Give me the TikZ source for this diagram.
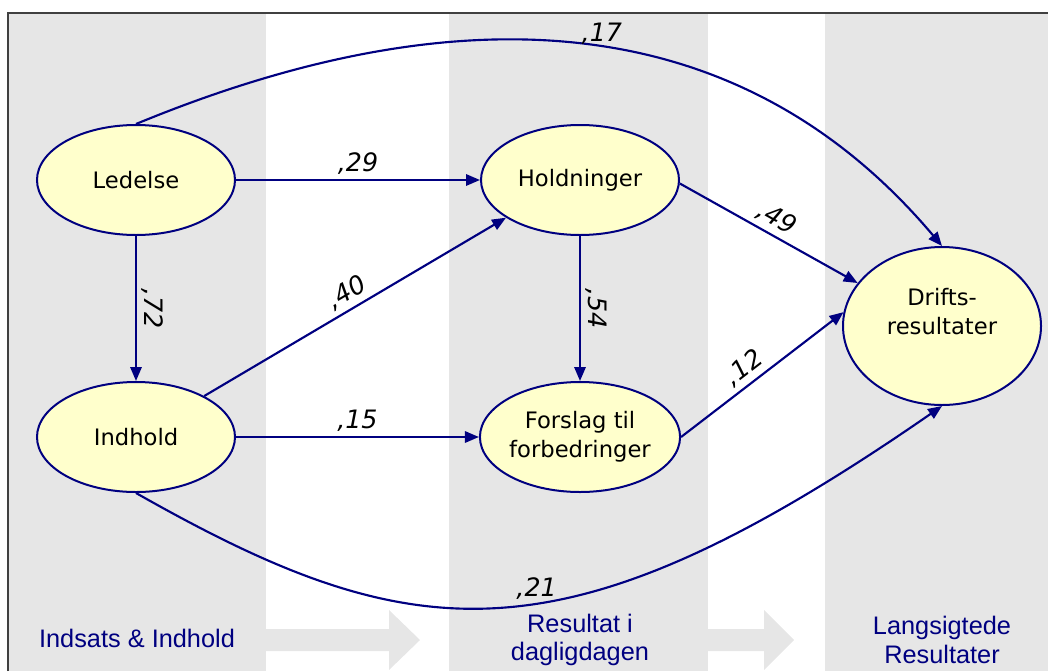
\documentclass[tikz,border=0pt]{standalone}
\usepackage{fontspec}
\setmainfont{DejaVu Sans}
\newfontfamily\stagefont{Liberation Sans}
\usepackage{tikz}
\usetikzlibrary{shapes.geometric,arrows.meta,positioning,calc}
\usepackage{xcolor}
\definecolor{navy}{RGB}{0,0,128}
\definecolor{bandgray}{RGB}{230,230,230}
\definecolor{factoryellow}{RGB}{255,255,204}

\tikzset{
  factor/.style={ellipse, draw=navy, line width=1.5pt, fill=factoryellow, minimum width=148.5pt, minimum height=82.5pt, inner sep=0pt, align=center, font=\fontsize{17}{21.5}\selectfont},
  coef/.style={font=\fontsize{19}{21}\selectfont\itshape, inner sep=1.5pt},
  link/.style={->, draw=navy, line width=1.6pt},
  stage/.style={text=navy, align=center, font=\stagefont\fontsize{19}{21.5}\selectfont}
}

\begin{document}
\begin{tikzpicture}[x=0.75pt,y=-0.75pt,>={Triangle[length=10.5pt,width=8.5pt]}]
\useasboundingbox (0,0) rectangle (1048,671);
% bands and stage arrows
\fill[bandgray] (8,13) rectangle (266,671);
\fill[bandgray] (449,13) rectangle (708,671);
\fill[bandgray] (825,13) rectangle (1048,671);
\fill[bandgray] (266,629) -- (389,629) -- (389,610) -- (420,640) -- (389,670) -- (389,651) -- (266,651) -- cycle;
\fill[bandgray] (708,629) -- (764,629) -- (764,610) -- (794,640) -- (764,670) -- (764,651) -- (708,651) -- cycle;
\draw[black!75, line width=1.5pt] (8,671) -- (8,13) -- (1048,13);

% factors
\node (ledelse) [factor] at (136,180) {Ledelse};
\node (holdninger) [factor] at (580,180) {Holdninger};
\node (indhold) [factor] at (136,437) {Indhold};
\node (forslag) [factor] at (580,437) {Forslag til\\forbedringer};
\node (drifts) [factor, minimum height=118.5pt] at (942,326) {};
\node (driftstext) [align=center, font=\fontsize{17}{21.5}\selectfont] at ([yshift=11pt]drifts.center) {Drifts-\\resultater};

% paths
\draw[link] (ledelse) -- node[coef, above=2pt]{,29} (holdninger);
\draw[link] (indhold) -- node[coef, above=2pt]{,15} (forslag);
\draw[link] (ledelse) -- node[coef, rotate=-90, anchor=south, yshift=2pt]{,72} (indhold);
\draw[link] (holdninger) -- node[coef, rotate=-90, anchor=south, yshift=2pt]{,54} (forslag);
\draw[link] (indhold.31) -- node[coef, sloped, above=2pt]{,40} (holdninger.207);
\draw[link] (holdninger.-2) -- node[coef, sloped, above=2pt]{,49} (drifts.153);
\draw[link] (forslag.east) -- node[coef, sloped, above=2pt, pos=0.45]{,12} (drifts.172);
\draw[link] (ledelse.north) .. controls (383,22) and (705,-35) .. node[coef, pos=0.57, above]{,17} (drifts.north);
\draw[link] (indhold.south) .. controls (413,650) and (562,669) .. node[coef, pos=0.55, above]{,21} (drifts.south);

% stages
\node (inputs) [stage] at (137,638) {Indsats \& Indhold};
\node (daily) [stage] at (580,640) {Resultat i\\dagligdagen};
\node (longterm) [stage] at (942,640) {Langsigtede\\Resultater};
\end{tikzpicture}
\end{document}
